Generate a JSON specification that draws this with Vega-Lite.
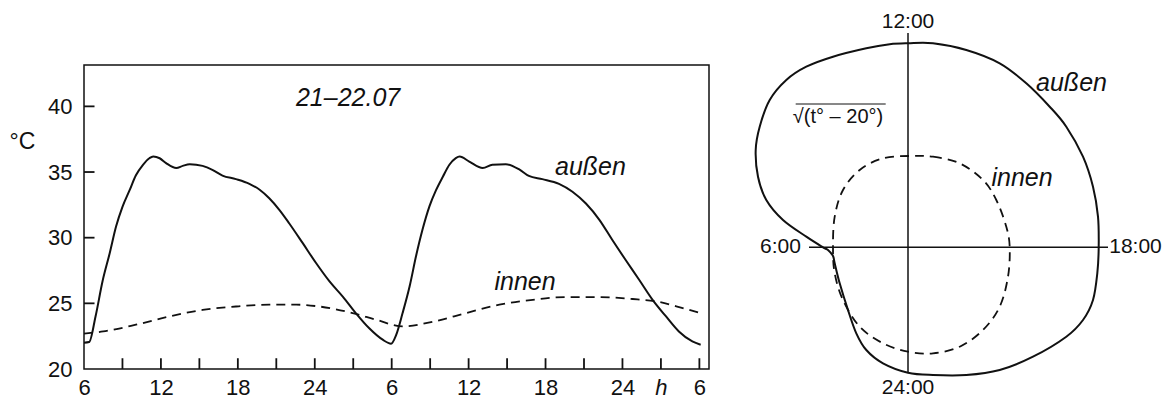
{
  "$schema": "https://vega.github.io/schema/vega-lite/v6.json",
  "bounds": "flush",
  "padding": {"left": 8, "top": 10, "right": 0, "bottom": 0},
  "spacing": 44,
  "config": {
    "font": "Liberation Sans",
    "view": {"stroke": null},
    "text": {"color": "#111"},
    "axis": {"labelColor": "#111", "titleColor": "#111", "grid": false}
  },
  "datasets": {
    "aussen": [
      {"h": 0, "t": 22.0}, {"h": 0.4, "t": 22.05}, {"h": 0.9, "t": 24.0},
      {"h": 1.45, "t": 26.7}, {"h": 2.0, "t": 28.8}, {"h": 2.5, "t": 30.85},
      {"h": 3.0, "t": 32.35}, {"h": 3.55, "t": 33.6}, {"h": 4.05, "t": 34.75},
      {"h": 4.6, "t": 35.55}, {"h": 5.1, "t": 36.05}, {"h": 5.4, "t": 36.18},
      {"h": 5.9, "t": 36.05}, {"h": 6.4, "t": 35.68}, {"h": 7.2, "t": 35.3},
      {"h": 7.7, "t": 35.47}, {"h": 8.25, "t": 35.6}, {"h": 9.25, "t": 35.47},
      {"h": 10.05, "t": 35.15}, {"h": 10.8, "t": 34.73}, {"h": 11.85, "t": 34.46},
      {"h": 12.9, "t": 34.1}, {"h": 13.7, "t": 33.65}, {"h": 14.45, "t": 33.0},
      {"h": 15.25, "t": 32.1}, {"h": 16.0, "t": 31.1}, {"h": 17.05, "t": 29.6},
      {"h": 18.1, "t": 28.07}, {"h": 19.15, "t": 26.67}, {"h": 20.2, "t": 25.5},
      {"h": 21.2, "t": 24.26}, {"h": 22.25, "t": 23.1}, {"h": 23.3, "t": 22.23},
      {"h": 23.95, "t": 21.93}, {"h": 24.35, "t": 22.6}, {"h": 24.85, "t": 24.26},
      {"h": 25.4, "t": 26.3}, {"h": 25.9, "t": 28.6}, {"h": 26.4, "t": 30.6},
      {"h": 26.95, "t": 32.4}, {"h": 27.45, "t": 33.6}, {"h": 28.0, "t": 34.66},
      {"h": 28.5, "t": 35.55}, {"h": 29.0, "t": 36.06}, {"h": 29.3, "t": 36.18},
      {"h": 30.05, "t": 35.8}, {"h": 31.1, "t": 35.3}, {"h": 31.85, "t": 35.55},
      {"h": 32.9, "t": 35.6}, {"h": 33.95, "t": 35.2}, {"h": 34.7, "t": 34.7},
      {"h": 35.75, "t": 34.46}, {"h": 37.05, "t": 34.1}, {"h": 38.1, "t": 33.5},
      {"h": 39.15, "t": 32.6}, {"h": 40.2, "t": 31.36}, {"h": 41.2, "t": 29.84},
      {"h": 42.25, "t": 28.3}, {"h": 43.3, "t": 26.8}, {"h": 44.35, "t": 25.27},
      {"h": 45.4, "t": 24.0}, {"h": 46.4, "t": 22.86}, {"h": 47.45, "t": 22.1},
      {"h": 48.1, "t": 21.85}
    ],
    "innen": [
      {"h": 0, "t": 22.7}, {"h": 1.5, "t": 22.86}, {"h": 4.05, "t": 23.37},
      {"h": 6.65, "t": 24.0}, {"h": 9.25, "t": 24.5}, {"h": 11.85, "t": 24.76},
      {"h": 14.45, "t": 24.9}, {"h": 16.55, "t": 24.9}, {"h": 18.35, "t": 24.76},
      {"h": 20.95, "t": 24.26}, {"h": 22.8, "t": 23.75}, {"h": 24.85, "t": 23.24},
      {"h": 27.2, "t": 23.6}, {"h": 29.8, "t": 24.26}, {"h": 32.4, "t": 24.9},
      {"h": 35.0, "t": 25.27}, {"h": 37.6, "t": 25.48}, {"h": 40.2, "t": 25.48},
      {"h": 42.8, "t": 25.33}, {"h": 44.6, "t": 25.15}, {"h": 46.7, "t": 24.64},
      {"h": 48.1, "t": 24.26}
    ],
    "xticks": [
      {"h": 3}, {"h": 6}, {"h": 9}, {"h": 12}, {"h": 15}, {"h": 18}, {"h": 21}, {"h": 24},
      {"h": 27}, {"h": 30}, {"h": 33}, {"h": 36}, {"h": 39}, {"h": 42}, {"h": 45}, {"h": 48}
    ],
    "yticks": [{"t": 25}, {"t": 30}, {"t": 35}, {"t": 40}],
    "leftlabels": [
      {"h": 20.6, "t": 40.65, "txt": "21–22.07"},
      {"h": 39.5, "t": 35.4, "txt": "außen"},
      {"h": 34.4, "t": 26.64, "txt": "innen"}
    ],
    "aussenPolar": [
      {"i": 0, "x": 0, "y": 4.08}, {"i": 1, "x": 0.5, "y": 4.08}, {"i": 2, "x": 1.166, "y": 3.946},
      {"i": 3, "x": 1.834, "y": 3.68}, {"i": 4, "x": 2.366, "y": 3.28}, {"i": 5, "x": 2.834, "y": 2.812},
      {"i": 6, "x": 3.166, "y": 2.412}, {"i": 7, "x": 3.5, "y": 1.812}, {"i": 8, "x": 3.7, "y": 1.212},
      {"i": 9, "x": 3.8, "y": 0.612}, {"i": 10, "x": 3.814, "y": 0}, {"i": 11, "x": 3.786, "y": -0.52},
      {"i": 12, "x": 3.7, "y": -1.054}, {"i": 13, "x": 3.5, "y": -1.454}, {"i": 14, "x": 3.166, "y": -1.788},
      {"i": 15, "x": 2.5, "y": -2.188}, {"i": 16, "x": 1.834, "y": -2.454}, {"i": 17, "x": 1.166, "y": -2.554},
      {"i": 18, "x": 0.5, "y": -2.554}, {"i": 19, "x": 0, "y": -2.508}, {"i": 20, "x": -0.5, "y": -2.32},
      {"i": 21, "x": -0.834, "y": -2.054}, {"i": 22, "x": -1.034, "y": -1.72}, {"i": 23, "x": -1.2, "y": -1.254},
      {"i": 24, "x": -1.366, "y": -0.72}, {"i": 25, "x": -1.466, "y": -0.32}, {"i": 26, "x": -1.5, "y": -0.174},
      {"i": 27, "x": -1.6, "y": -0.054}, {"i": 28, "x": -1.7, "y": 0}, {"i": 29, "x": -2.034, "y": 0.212},
      {"i": 30, "x": -2.5, "y": 0.546}, {"i": 31, "x": -2.834, "y": 0.946}, {"i": 32, "x": -3.0, "y": 1.412},
      {"i": 33, "x": -3.046, "y": 1.946}, {"i": 34, "x": -2.966, "y": 2.412}, {"i": 35, "x": -2.766, "y": 2.946},
      {"i": 36, "x": -2.434, "y": 3.346}, {"i": 37, "x": -2.034, "y": 3.612}, {"i": 38, "x": -1.5, "y": 3.812},
      {"i": 39, "x": -0.834, "y": 3.98}, {"i": 40, "x": -0.366, "y": 4.06}
    ],
    "innenPolar": [
      {"i": 0, "x": 0.034, "y": 1.826}, {"i": 1, "x": 0.5, "y": 1.812}, {"i": 2, "x": 1.034, "y": 1.68},
      {"i": 3, "x": 1.5, "y": 1.346}, {"i": 4, "x": 1.766, "y": 0.946}, {"i": 5, "x": 1.966, "y": 0.412},
      {"i": 6, "x": 2.034, "y": 0}, {"i": 7, "x": 2.0, "y": -0.588}, {"i": 8, "x": 1.834, "y": -1.188},
      {"i": 9, "x": 1.5, "y": -1.654}, {"i": 10, "x": 1.034, "y": -1.988}, {"i": 11, "x": 0.5, "y": -2.12},
      {"i": 12, "x": 0, "y": -2.088}, {"i": 13, "x": -0.5, "y": -1.92}, {"i": 14, "x": -0.966, "y": -1.588},
      {"i": 15, "x": -1.3, "y": -1.054}, {"i": 16, "x": -1.466, "y": -0.52}, {"i": 17, "x": -1.5, "y": 0},
      {"i": 18, "x": -1.466, "y": 0.612}, {"i": 19, "x": -1.3, "y": 1.146}, {"i": 20, "x": -0.966, "y": 1.546},
      {"i": 21, "x": -0.5, "y": 1.78}
    ],
    "clock": [
      {"x": 0, "y": 4.51, "txt": "12:00"},
      {"x": 0, "y": -2.81, "txt": "24:00"},
      {"x": -2.55, "y": 0, "txt": "6:00"},
      {"x": 4.55, "y": 0, "txt": "18:00"}
    ],
    "rightlabels": [
      {"x": 3.27, "y": 3.28, "txt": "außen"},
      {"x": 2.28, "y": 1.38, "txt": "innen"}
    ]
  },
  "hconcat": [
    {
      "width": 625,
      "height": 304,
      "view": {"stroke": "#111", "strokeWidth": 1.5},
      "layer": [
        {
          "data": {"name": "xticks"},
          "mark": {"type": "rule", "stroke": "#111", "strokeWidth": 1.8},
          "encoding": {
            "x": {
              "field": "h", "type": "quantitative",
              "scale": {"domain": [0, 48.75], "nice": false, "zero": false},
              "axis": {
                "orient": "bottom", "title": null, "domain": false, "ticks": false, "tickSize": 0,
                "values": [0, 6, 12, 18, 24, 30, 36, 42, 45, 48],
                "labelPadding": 8, "labelFontSize": 22, "labelFlush": false, "labelOverlap": false,
                "labelExpr": "datum.value == 45 ? 'h' : ((datum.value + 6) % 24 == 0 ? '24' : '' + ((datum.value + 6) % 24))",
                "labelFontStyle": {"condition": {"test": "datum.value == 45", "value": "italic"}, "value": "normal"}
              }
            },
            "y": {
              "datum": 20, "type": "quantitative",
              "scale": {"domain": [20, 43.15], "nice": false, "zero": false},
              "axis": {
                "orient": "left",
                "title": "°C", "titleAngle": 0, "titleAlign": "center", "titleBaseline": "middle",
                "titleX": -62, "titleY": 76, "titleFontSize": 23, "titleFontWeight": "normal",
                "domain": false, "ticks": false, "tickSize": 0, "values": [20, 25, 30, 35, 40],
                "labelPadding": 12, "labelFontSize": 22
              }
            },
            "y2": {"datum": 20.82}
          }
        },
        {
          "data": {"name": "yticks"},
          "mark": {"type": "rule", "stroke": "#111", "strokeWidth": 1.8},
          "encoding": {
            "y": {"field": "t", "type": "quantitative"},
            "x": {"datum": 0, "type": "quantitative"},
            "x2": {"datum": 0.82}
          }
        },
        {
          "data": {"name": "aussen"},
          "mark": {"type": "line", "interpolate": "monotone", "stroke": "#111", "strokeWidth": 2},
          "encoding": {
            "x": {"field": "h", "type": "quantitative"},
            "y": {"field": "t", "type": "quantitative"}
          }
        },
        {
          "data": {"name": "innen"},
          "mark": {"type": "line", "interpolate": "monotone", "stroke": "#111", "strokeWidth": 1.8, "strokeDash": [9, 6]},
          "encoding": {
            "x": {"field": "h", "type": "quantitative"},
            "y": {"field": "t", "type": "quantitative"}
          }
        },
        {
          "data": {"name": "leftlabels"},
          "mark": {"type": "text", "fontSize": 25, "fontStyle": "italic", "align": "center", "baseline": "middle"},
          "encoding": {
            "x": {"field": "h", "type": "quantitative"},
            "y": {"field": "t", "type": "quantitative"},
            "text": {"field": "txt"}
          }
        }
      ]
    },
    {
      "width": 360,
      "height": 304,
      "layer": [
        {
          "data": {"values": [{}]},
          "mark": {"type": "rule", "stroke": "#111", "strokeWidth": 1.5},
          "encoding": {
            "x": {"datum": -1.98, "type": "quantitative", "scale": {"domain": [-3.1, 4.1], "nice": false, "zero": false}, "axis": null},
            "x2": {"datum": 4.0},
            "y": {"datum": 0, "type": "quantitative", "scale": {"domain": [-2.434, 3.646], "nice": false, "zero": false}, "axis": null}
          }
        },
        {
          "data": {"values": [{}]},
          "mark": {"type": "rule", "stroke": "#111", "strokeWidth": 1.5},
          "encoding": {
            "x": {"datum": 0, "type": "quantitative"},
            "y": {"datum": -2.51, "type": "quantitative"},
            "y2": {"datum": 4.286}
          }
        },
        {
          "data": {"name": "aussenPolar"},
          "mark": {"type": "line", "interpolate": "cardinal-closed", "stroke": "#111", "strokeWidth": 2},
          "encoding": {
            "x": {"field": "x", "type": "quantitative"},
            "y": {"field": "y", "type": "quantitative"},
            "order": {"field": "i", "type": "quantitative"}
          }
        },
        {
          "data": {"name": "innenPolar"},
          "mark": {"type": "line", "interpolate": "cardinal-closed", "stroke": "#111", "strokeWidth": 1.8, "strokeDash": [9, 6]},
          "encoding": {
            "x": {"field": "x", "type": "quantitative"},
            "y": {"field": "y", "type": "quantitative"},
            "order": {"field": "i", "type": "quantitative"}
          }
        },
        {
          "data": {"name": "clock"},
          "mark": {"type": "text", "fontSize": 21, "align": "center", "baseline": "middle"},
          "encoding": {
            "x": {"field": "x", "type": "quantitative"},
            "y": {"field": "y", "type": "quantitative"},
            "text": {"field": "txt"}
          }
        },
        {
          "data": {"name": "rightlabels"},
          "mark": {"type": "text", "fontSize": 25, "fontStyle": "italic", "align": "center", "baseline": "middle"},
          "encoding": {
            "x": {"field": "x", "type": "quantitative"},
            "y": {"field": "y", "type": "quantitative"},
            "text": {"field": "txt"}
          }
        },
        {
          "data": {"values": [{}]},
          "mark": {"type": "text", "fontSize": 20, "align": "center", "baseline": "middle"},
          "encoding": {
            "x": {"datum": -1.4, "type": "quantitative"},
            "y": {"datum": 2.61, "type": "quantitative"},
            "text": {"value": "√(t° – 20°)"}
          }
        },
        {
          "data": {"values": [{}]},
          "mark": {"type": "rule", "stroke": "#111", "strokeWidth": 1},
          "encoding": {
            "x": {"datum": -2.246, "type": "quantitative"},
            "x2": {"datum": -0.446},
            "y": {"datum": 2.866, "type": "quantitative"}
          }
        }
      ]
    }
  ]
}
